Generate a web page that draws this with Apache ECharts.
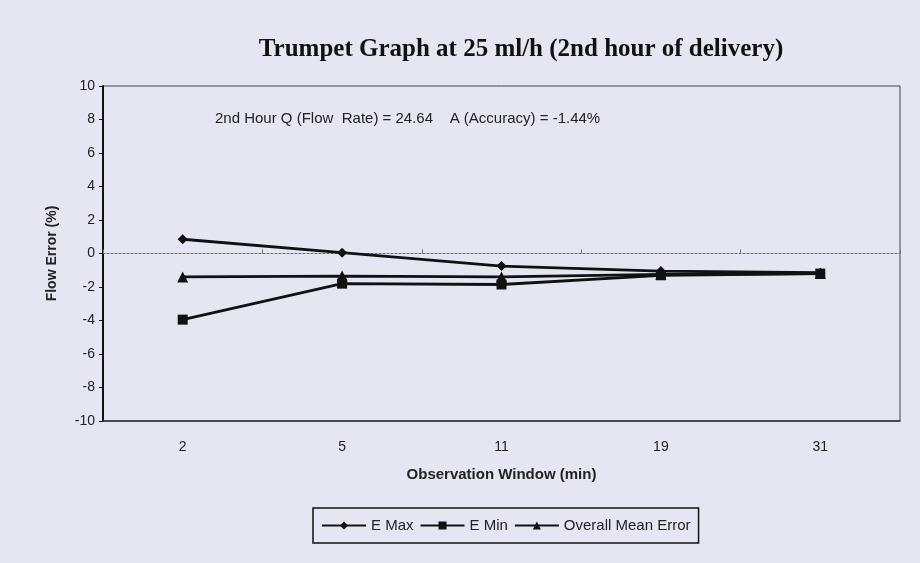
<!DOCTYPE html>
<html>
<head>
<meta charset="utf-8">
<script src="https://cdn.jsdelivr.net/npm/echarts@6/dist/echarts.min.js"></script>
<style>
  html, body { margin: 0; padding: 0; background: #e6e6f2; }
  #chart { width: 920px; height: 563px; }
</style>
</head>
<body>
<div id="chart"></div>
<script>
// observation windows (min)
var windows = ['2', '5', '11', '19', '31'];
// flow error (%)
var eMax = [0.85, 0.05, -0.75, -1.05, -1.15];
var eMin = [-3.95, -1.8, -1.85, -1.3, -1.2];
var meanError = [-1.4, -1.35, -1.4, -1.25, -1.2];

var chart = echarts.init(document.getElementById('chart'));

function lineSeries (name, data, symbol, size) {
  return {
    name: name,
    type: 'line',
    data: data,
    symbol: symbol,
    symbolSize: size,
    showAllSymbol: true,
    itemStyle: { color: '#111' },
    lineStyle: { color: '#111', width: 2.8 },
    emphasis: { disabled: true },
    z: 5
  };
}

chart.setOption({
  backgroundColor: '#e6e6f2',
  animation: false,
  textStyle: { fontFamily: 'Liberation Sans, Arial, sans-serif' },
  title: {
    text: 'Trumpet Graph at 25 ml/h (2nd hour of delivery)',
    left: 516,
    textAlign: 'center',
    top: 32,
    textStyle: {
      fontFamily: 'Liberation Serif, Times New Roman, serif',
      fontWeight: 'bold',
      fontSize: 25,
      color: '#111'
    }
  },
  graphic: [{
    type: 'text',
    left: 215,
    top: 111,
    style: {
      text: '2nd Hour Q (Flow  Rate) = 24.64    A (Accuracy) = -1.44%',
      font: '15px Liberation Sans, Arial, sans-serif',
      fill: '#222'
    }
  }],
  grid: {
    left: 103,
    right: 20,
    top: 86,
    bottom: 142,
    show: true,
    borderColor: '#444',
    borderWidth: 1,
    backgroundColor: 'transparent'
  },
  legend: {
    data: ['E Max', 'E Min', 'Overall Mean Error'],
    left: 313,
    top: 508,
    padding: [10, 8],
    itemWidth: 44,
    itemHeight: 10,
    itemGap: 6,
    borderColor: '#111',
    borderWidth: 1.5,
    textStyle: { fontSize: 15, color: '#222' }
  },
  xAxis: [{
    type: 'category',
    data: windows,
    boundaryGap: true,
    name: 'Observation Window (min)',
    nameLocation: 'middle',
    nameGap: 46,
    nameTextStyle: { fontSize: 15, fontWeight: 'bold', color: '#222' },
    axisLine: { onZero: false, lineStyle: { color: '#333', width: 1.5 } },
    axisTick: { show: false },
    axisLabel: { fontSize: 14, color: '#222', margin: 19 },
    splitLine: { show: false }
  }, {
    type: 'category',
    data: windows,
    boundaryGap: true,
    position: 'bottom',
    axisLine: { onZero: true, lineStyle: { color: '#666', width: 1, type: [2, 2] } },
    axisTick: { show: true, inside: true, length: 4, lineStyle: { color: '#777' } },
    axisLabel: { show: false },
    splitLine: { show: false }
  }],
  yAxis: {
    type: 'value',
    min: -10,
    max: 10,
    interval: 2,
    name: 'Flow Error (%)',
    nameLocation: 'middle',
    nameGap: 44,
    nameTextStyle: { fontSize: 14, fontWeight: 'bold', color: '#222' },
    axisLine: { show: true, lineStyle: { color: '#111', width: 2 } },
    axisTick: { show: true, length: 4, lineStyle: { color: '#111' } },
    axisLabel: { fontSize: 14, color: '#222', margin: 8 },
    splitLine: { show: false }
  },
  series: [
    lineSeries('E Max', eMax, 'diamond', 10),
    lineSeries('E Min', eMin, 'rect', 10),
    lineSeries('Overall Mean Error', meanError, 'triangle', 11)
  ]
});
</script>
</body>
</html>
